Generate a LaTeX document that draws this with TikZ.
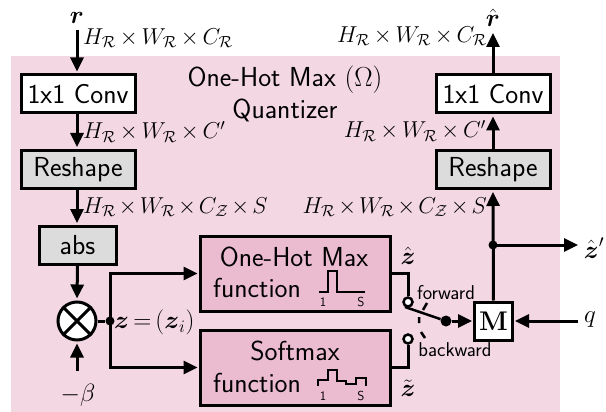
\documentclass[tikz,border=0pt]{standalone}
\usepackage{fix-cm}
\usepackage{amsmath,amssymb}
\usepackage{tikz}
\usetikzlibrary{arrows.meta,calc}
\definecolor{quantbg}{RGB}{243,215,227}
\definecolor{funcpink}{RGB}{235,187,208}
\definecolor{blockgray}{RGB}{220,220,220}
\newcommand{\tm}{\mspace{-1mu}\times\mspace{-1mu}}
\newcommand{\tmm}{\mspace{-1.7mu}\times\mspace{-1.7mu}}
\tikzset{
    sig/.style={line width=3pt, -{Triangle[length=14pt,width=13pt]}},
    wire/.style={line width=3pt},
    thinwire/.style={line width=2pt},
    blockbox/.style={draw=black, line width=3pt, minimum width=114pt, minimum height=38pt, inner sep=0pt, font=\sffamily\fontsize{27.5}{30}\selectfont},
    dimlabel/.style={inner sep=0pt, font=\fontsize{23}{25}\selectfont},
    funcbox/.style={draw=black, line width=3pt, fill=funcpink, minimum width=190pt, minimum height=75pt, inner sep=0pt},
    functext/.style={inner sep=0pt, font=\sffamily\fontsize{27.5}{32}\selectfont},
    smalltext/.style={inner sep=0pt, font=\sffamily\fontsize{20}{23}\selectfont},
    ticktext/.style={inner sep=0pt, font=\sffamily\fontsize{13}{15}\selectfont},
    dot/.style={circle, fill=black, inner sep=0pt, minimum size=#1},
    contact/.style={circle, draw=black, line width=2.5pt, fill=white, inner sep=0pt, minimum size=9pt},
    biglabel/.style={inner sep=0pt, font=\fontsize{25}{28}\selectfont},
}
\begin{document}
\begin{tikzpicture}[x=1pt,y=-1pt]
    \useasboundingbox (0,0) rectangle (606,412);
    \fill[quantbg] (11,56) rectangle (560,412);
    \node[functext] (titleA) at (285,80) {One-Hot Max $(\Omega)$};
    \node[functext] (titleB) at (285,110) {Quantizer};

    % left column
    \node[biglabel] (r) at (77,18) {$\boldsymbol{r}$};
    \coordinate (rin) at (77,30);
    \node[blockbox, fill=white] (convL) at (78,94) {1x1 Conv};
    \node[blockbox, fill=blockgray] (reshapeL) at (78,169.5) {Reshape};
    \node[blockbox, fill=blockgray, minimum width=77pt] (abs) at (77.5,245.5) {abs};
    \node[circle, draw=black, line width=3pt, fill=white, minimum size=38pt, inner sep=0pt] (mult) at (77,321) {};
    \draw[line width=3pt] (mult.north west) -- (mult.south east) (mult.north east) -- (mult.south west);
    \coordinate (betain) at (77,371);
    \node[biglabel] (beta) at (78,395) {$-\beta$};

    \draw[sig] (rin) -- ($(convL.north)+(-1,-2)$);
    \draw[sig] ($(convL.south)+(-1,0)$) -- ($(reshapeL.north)+(-1,-2)$);
    \draw[sig] ($(reshapeL.south)+(-1,0)$) -- ($(abs.north)+(-0.5,-2)$);
    \draw[sig] (abs.south) -- ($(mult.north)+(0,-2)$);
    \draw[sig] (betain) -- ($(mult.south)+(0,2)$);

    \node[dimlabel, anchor=west] (dimA) at (83,38) {$H_{\mathcal{R}}\tm W_{\mathcal{R}}\tm C_{\mathcal{R}}$};
    \node[dimlabel, anchor=west] (dimB) at (83,132) {$H_{\mathcal{R}}\tm W_{\mathcal{R}}\tm C'$};
    \node[dimlabel, anchor=west] (dimC) at (83,207) {$H_{\mathcal{R}}\tmm W_{\mathcal{R}}\tmm C_{\mathcal{Z}}\tmm S$};

    % function blocks
    \node[funcbox] (onehot) at (295,273.5) {};
    \node[funcbox] (softmax) at (295,367.5) {};
    \node[functext] (onehotA) at (294,257) {One-Hot Max};
    \node[functext, anchor=west] (onehotB) at (213,288) {function};
    \node[functext] (softmaxA) at (295,351) {Softmax};
    \node[functext, anchor=west] (softmaxB) at (213,383) {function};
    \draw[thinwire] (319,292) -- (328,292) -- (328,271) -- (337,271) -- (337,292) -- (365,292);
    \draw[thinwire] (318,386) -- (318,380) -- (328,380) -- (328,370) -- (337,370) -- (337,381) -- (346,381) -- (346,384) -- (356,384) -- (356,378) -- (366,378) -- (366,386);
    \node[ticktext] (oneA) at (323,302) {1};
    \node[ticktext] (sA) at (361,302) {S};
    \node[ticktext] (oneB) at (323,396) {1};
    \node[ticktext] (sB) at (361,396) {S};

    % split after the multiplier
    \node[dot=9pt] (split) at (110,321) {};
    \draw[wire] (mult) -- (split);
    \draw[sig] (split.center) |- ($(onehot.west)+(-1,0)$);
    \draw[sig] (split.center) |- ($(softmax.west)+(-1,0)$);
    \node[biglabel, anchor=west] (zlabel) at (114,322) {$\boldsymbol{z}\mspace{-2mu}=\mspace{-2mu}(\boldsymbol{z}_i)$};

    % switch
    \node[contact] (contactA) at (408,302) {};
    \node[contact] (contactB) at (408,339) {};
    \node[dot=11pt] (switchdot) at (446,321) {};
    \coordinate (blade) at (405,307);
    \draw[wire] (onehot.east) -| (contactA);
    \draw[wire] (softmax.east) -| (contactB);
    \draw[line width=2.5pt] (blade) -- (switchdot);
    \draw[line width=2.5pt] (427,303) -- (423,310) (419,317) -- (419,323) (421,332) -- (425,338);
    \node[biglabel] (zhat) at (408,256) {$\hat{\boldsymbol{z}}$};
    \node[biglabel] (ztilde) at (408,388) {$\tilde{\boldsymbol{z}}$};
    \node[smalltext] (forward) at (446,293) {forward};
    \node[smalltext] (backward) at (455,350) {backward};

    % multiplexer
    \node[draw=black, line width=3pt, fill=white, minimum size=38pt, inner sep=0pt, font=\fontsize{27}{30}\selectfont] (mux) at (493.5,321) {$\mathbf{M}$};
    \draw[sig] (switchdot) -- ($(mux.west)+(-1,0)$);
    \node[biglabel] (q) at (590,320) {$q$};
    \coordinate (qin) at (578,321);
    \draw[sig] (qin) -- ($(mux.east)+(1,0)$);

    % right column
    \node[blockbox, fill=white] (convR) at (493,94) {1x1 Conv};
    \node[blockbox, fill=blockgray] (reshapeR) at (493,169.5) {Reshape};
    \node[biglabel] (rhat) at (493,18) {$\hat{\boldsymbol{r}}$};
    \coordinate (rout) at (493,33);
    \node[dot=9pt] (tap) at (493,245) {};
    \coordinate (zout) at (578,245);
    \node[biglabel] (zprime) at (594,248) {$\hat{\boldsymbol{z}}'$};
    \draw[sig] (mux.north) -- ($(reshapeR.south)+(0,2)$);
    \draw[sig] (reshapeR.north) -- ($(convR.south)+(0,2)$);
    \draw[sig] (convR.north) -- (rout);
    \draw[sig] (tap.center) -- (zout);

    \node[dimlabel, anchor=east] (dimD) at (487,36) {$H_{\mathcal{R}}\tm W_{\mathcal{R}}\tm C_{\mathcal{R}}$};
    \node[dimlabel, anchor=east] (dimE) at (486,131) {$H_{\mathcal{R}}\tm W_{\mathcal{R}}\tm C'$};
    \node[dimlabel, anchor=east] (dimF) at (487,207) {$H_{\mathcal{R}}\tmm W_{\mathcal{R}}\tmm C_{\mathcal{Z}}\tmm S$};
\end{tikzpicture}
\end{document}
